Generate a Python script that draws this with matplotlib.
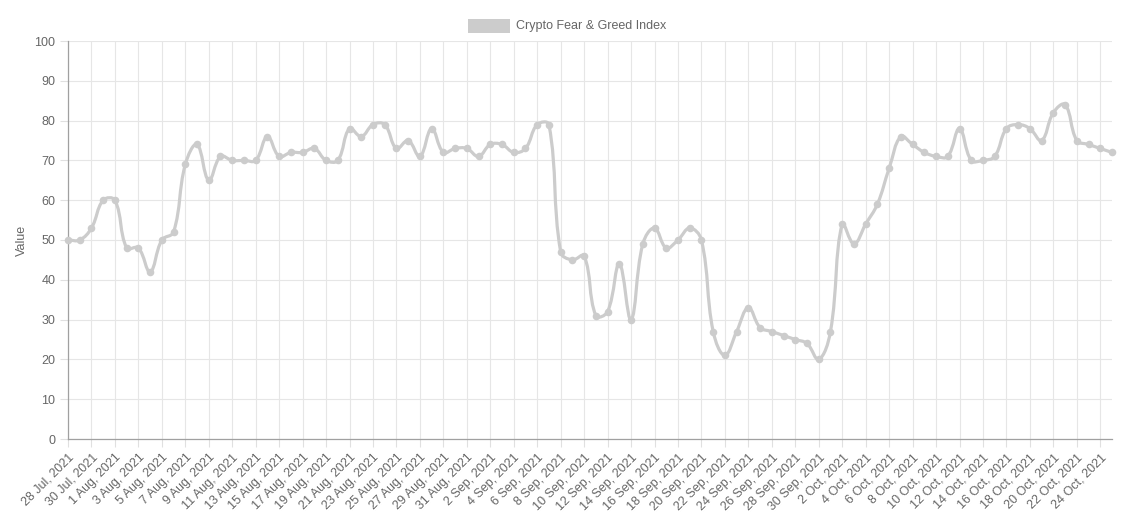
import numpy as np
import pandas as pd
import matplotlib
matplotlib.use("Agg")
import matplotlib.pyplot as plt
from matplotlib.path import Path
from matplotlib.patches import PathPatch, Rectangle

plt.rcParams['font.family'] = ['Liberation Sans', 'DejaVu Sans']

dates = pd.date_range("2021-07-28", "2021-10-25", freq="D")
values = [50, 50, 53, 60, 60, 48, 48, 42, 50, 52,
          69, 74, 65, 71, 70, 70, 70, 76, 71, 72,
          72, 73, 70, 70, 78, 76, 79, 79, 73, 75,
          71, 78, 72, 73, 73, 71, 74, 74, 72, 73,
          79, 79, 47, 45, 46, 31, 32, 44, 30, 49,
          53, 48, 50, 53, 50, 27, 21, 27, 33, 28,
          27, 26, 25, 24, 20, 27, 54, 49, 54, 59,
          68, 76, 74, 72, 71, 71, 78, 70, 70, 71,
          78, 79, 78, 75, 82, 84, 75, 74, 73, 72]
labels = [f"{d.day} {d.strftime('%b')}, {d.year}" for d in dates]
series_name = "Crypto Fear & Greed Index"

W, H = 1131, 516
fig = plt.figure(figsize=(W / 100, H / 100), dpi=100)
left, right, top, bottom = 68, 1112, 41, 439
ax = fig.add_axes([left / W, 1 - bottom / H, (right - left) / W, (bottom - top) / H])

x = np.arange(len(values))
y = np.array(values, dtype=float)
ax.set_xlim(0, len(values) - 1)
ax.set_ylim(0, 100)

# pixel scale, control points done like chart.js splineCurve
sx = (right - left) / (len(values) - 1)
sy = (bottom - top) / 100.0
px = x * sx
py = y * sy
tension = 0.4
cp_prev = []
cp_next = []
for i in range(len(px)):
    p0 = (px[max(i - 1, 0)], py[max(i - 1, 0)])
    p1 = (px[i], py[i])
    p2 = (px[min(i + 1, len(px) - 1)], py[min(i + 1, len(px) - 1)])
    d01 = np.hypot(p1[0] - p0[0], p1[1] - p0[1])
    d12 = np.hypot(p2[0] - p1[0], p2[1] - p1[1])
    tot = d01 + d12
    s01 = d01 / tot if tot else 0
    s12 = d12 / tot if tot else 0
    fa, fb = tension * s01, tension * s12
    cp_prev.append((p1[0] - fa * (p2[0] - p0[0]), p1[1] - fa * (p2[1] - p0[1])))
    cp_next.append((p1[0] + fb * (p2[0] - p0[0]), p1[1] + fb * (p2[1] - p0[1])))

verts = [(x[0], y[0])]
codes = [Path.MOVETO]
for i in range(1, len(x)):
    c1 = cp_next[i - 1]
    c2 = cp_prev[i]
    verts += [(c1[0] / sx, min(max(c1[1] / sy, 0), 100)),
              (c2[0] / sx, min(max(c2[1] / sy, 0), 100)),
              (x[i], y[i])]
    codes += [Path.CURVE4] * 3
line_color = "#cccccc"
ax.add_patch(PathPatch(Path(verts, codes), facecolor="none", edgecolor=line_color,
                       lw=2.3, capstyle="round", joinstyle="round", zorder=3,
                       clip_on=False))
ax.scatter(x, y, s=30, color=line_color, zorder=4, linewidths=0, clip_on=False)

# axes styling
ax.set_xticks(x[::2])
ax.set_xticklabels(labels[::2], rotation=45, ha="right", rotation_mode="anchor",
                   fontsize=9, color="#666666")
ax.set_yticks(np.arange(0, 101, 10))
ax.set_yticklabels([str(v) for v in range(0, 101, 10)], fontsize=9, color="#666666")
ax.tick_params(axis="both", length=6, color="#e0e0e0", width=0.8, pad=3)
ax.grid(True, color="#e6e6e6", lw=0.8, zorder=0)
ax.set_axisbelow(True)
for s in ["top", "right"]:
    ax.spines[s].set_visible(False)
for s in ["left", "bottom"]:
    ax.spines[s].set_color("#a0a0a0")
    ax.spines[s].set_linewidth(0.9)
ax.set_ylabel("Value", fontsize=9, color="#666666", labelpad=5)

# legend box + label
fig.patches.append(Rectangle((468 / W, 1 - 33 / H), 42 / W, 14 / H,
                             transform=fig.transFigure, facecolor=line_color,
                             edgecolor="none"))
fig.text(516 / W, 1 - 26 / H, series_name, fontsize=9, color="#666666",
         va="center", ha="left")

fig.savefig("out.png", dpi=100)
